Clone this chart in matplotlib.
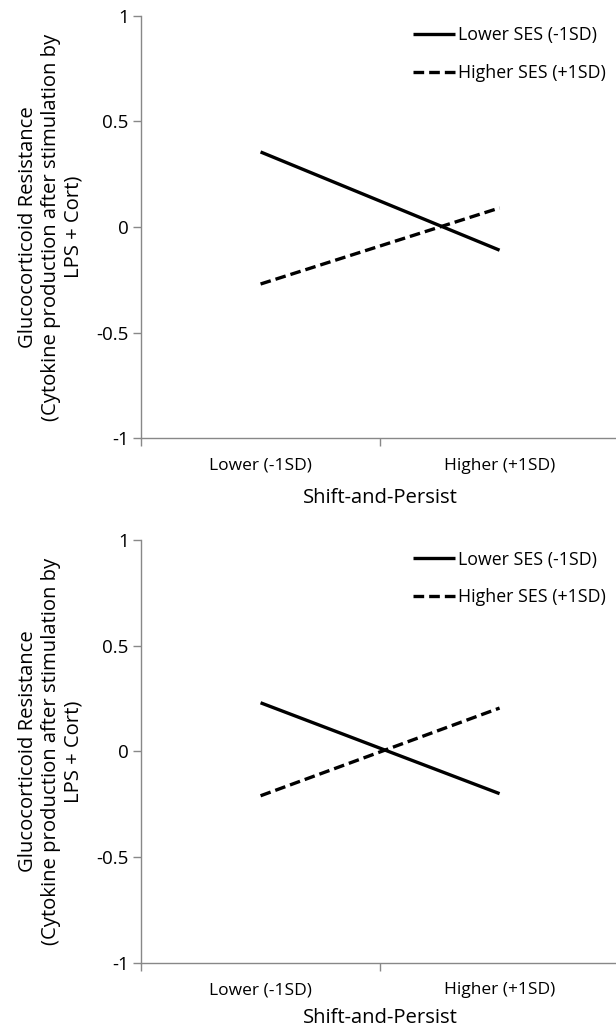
import matplotlib
matplotlib.use("Agg")
import matplotlib.pyplot as plt
from matplotlib.ticker import FixedLocator

plt.rcParams['font.family'] = ['Open Sans', 'DejaVu Sans']

# category labels on x axis
categories = ["Lower (-1SD)", "Higher (+1SD)"]
series_names = ["Lower SES (-1SD)", "Higher SES (+1SD)"]

# top panel values
top_lower_ses = [0.355, -0.11]
top_higher_ses = [-0.27, 0.09]

# bottom panel values
bottom_lower_ses = [0.23, -0.20]
bottom_higher_ses = [-0.21, 0.205]

y_ticks = [-1, -0.5, 0, 0.5, 1]
y_ticklabels = ["-1", "-0.5", "0", "0.5", "1"]

y_label = "Glucocorticoid Resistance\n(Cytokine production after stimulation by\nLPS + Cort)"
x_label = "Shift-and-Persist"

axis_gray = "#888888"
fs = 12.8


def draw_panel(ax, lower_vals, higher_vals, xlabel_pad=10):
    x = list(range(len(categories)))
    ax.plot(x, lower_vals, color="black", lw=2.4, solid_capstyle="butt",
            label=series_names[0])
    ax.plot(x, higher_vals, color="black", lw=2.4, dashes=(3.2, 1.5),
            dash_capstyle="butt", label=series_names[1])

    ax.set_xlim(-0.5, len(categories) - 0.5)
    ax.set_ylim(-1, 1)
    ax.set_yticks(y_ticks)
    ax.set_yticklabels(y_ticklabels, fontsize=fs + 0.7)
    ax.set_xticks(x)
    ax.set_xticklabels(categories, fontsize=fs - 0.3)
    ax.xaxis.set_minor_locator(FixedLocator([-0.5, 0.5, 1.5]))
    ax.tick_params(axis="x", which="major", length=0, pad=14)
    ax.tick_params(axis="x", which="minor", length=6, color=axis_gray, width=1)
    ax.tick_params(axis="y", length=6, color=axis_gray, width=1, pad=3)

    for side in ["top", "right"]:
        ax.spines[side].set_visible(False)
    for side in ["left", "bottom"]:
        ax.spines[side].set_color(axis_gray)
        ax.spines[side].set_linewidth(1)

    ax.set_ylabel(y_label, fontsize=14.6, labelpad=9, linespacing=1.2)
    ax.set_xlabel(x_label, fontsize=14.6, labelpad=xlabel_pad)

    ax.legend(loc="upper right", bbox_to_anchor=(0.995, 1.0), frameon=False,
              fontsize=fs, handlelength=2.4, handletextpad=0.15,
              labelspacing=1.1, borderaxespad=0.2)


fig = plt.figure(figsize=(6.16, 10.30), dpi=100)
ax1 = fig.add_axes([0.229, 0.5745, 0.776, 0.4103])
ax2 = fig.add_axes([0.229, 0.0653, 0.776, 0.4104])

draw_panel(ax1, top_lower_ses, top_higher_ses)
draw_panel(ax2, bottom_lower_ses, bottom_higher_ses, xlabel_pad=7)

fig.savefig("out.png", dpi=100)
